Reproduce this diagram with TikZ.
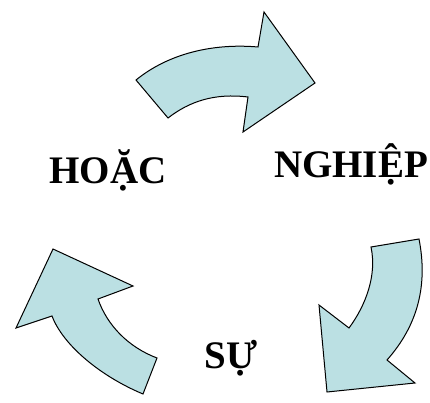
\documentclass[tikz,border=0pt]{standalone}
\usepackage{fontspec}
\setmainfont{Liberation Serif}
\definecolor{arrowfill}{RGB}{187,224,227}
\begin{document}
\begin{tikzpicture}
      [x=1pt,y=-1pt,
       every node/.style={font=\fontsize{39}{40}\selectfont\bfseries, inner sep=0pt, anchor=base},
       cyclearrow/.style={draw=black, line width=1pt, line join=miter, fill=arrowfill}]
    \useasboundingbox (0,0) rectangle (430,403);

    % top arrow, pointing right
    \draw[cyclearrow] (136,80) .. controls (168,54) and (212,43) .. (258,47)
      -- (264,12) -- (315,83) -- (243,132) -- (248,97)
      .. controls (215,93) and (190,101) .. (168,118) -- cycle;

    % right arrow, pointing down
    \draw[cyclearrow] (419,239) .. controls (428,285) and (418,325) .. (387,360)
      -- (415,383) -- (327,392) -- (319,305) -- (349,328)
      .. controls (366,305) and (377,275) .. (371,247) -- cycle;

    % left arrow, pointing up
    \draw[cyclearrow] (143,394) .. controls (100,376) and (63,345) .. (52,316)
      -- (16,328) -- (53,249) -- (133,286) -- (98,299)
      .. controls (107,325) and (128,347) .. (157,358) -- cycle;

    \node (hoac) at (108,183) {HOẶC};
    \node (nghiep) at (351,178) {NGHIỆP};
    \node (su) at (231,368) {SỰ};
  \end{tikzpicture}
\end{document}
